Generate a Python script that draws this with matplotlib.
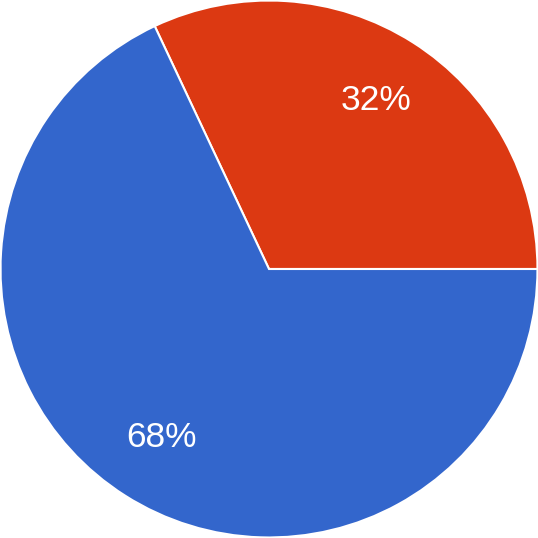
import matplotlib.pyplot as plt

etiquettes = ['Oui', 'Non']
valeurs = [32, 68]
couleurs = ['#dc3912', '#3366cc']

fig = plt.figure(figsize=(5.38, 5.38), dpi=100)
ax = fig.add_axes([0, 0, 1, 1])

wedges, textes, autotextes = ax.pie(
    valeurs, colors=couleurs, startangle=0, counterclock=True,
    autopct='%1.0f%%', pctdistance=0.745, radius=1.0,
    wedgeprops={'edgecolor': 'white', 'linewidth': 1.5},
    textprops={'color': 'white', 'fontsize': 25.5, 'family': 'Liberation Sans'})

ax.set_xlim(-1.002, 1.002)
ax.set_ylim(-1.002, 1.002)
ax.set_aspect('equal')
ax.axis('off')

plt.savefig('out.png', dpi=100)
